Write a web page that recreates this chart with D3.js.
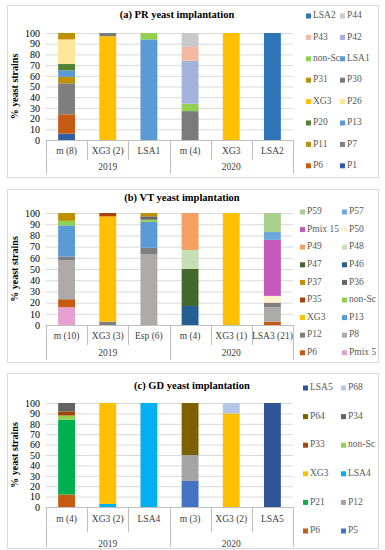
<!DOCTYPE html>
<html>
<head>
<meta charset="utf-8">
<script src="https://cdn.jsdelivr.net/npm/d3@7"></script>
<style>
body { margin: 0; background: #fff; }
svg { display: block; }
text { font-family: "Liberation Serif", "DejaVu Serif", serif; }
</style>
</head>
<body>
<div id="chart"></div>
<script>
// ---- data: (a) PR ----
var catsA = ['m (8)', 'XG3 (2)', 'LSA1', 'm (4)', 'XG3', 'LSA2'];
var yearOfCatA = ['2019', '2019', '2019', '2020', '2020', '2020'];
var seriesA = ['P1', 'P6', 'P7', 'P11', 'P13', 'P20', 'P26', 'XG3', 'P30', 'P31', 'LSA1', 'non-Sc', 'P42', 'P43', 'P44', 'LSA2'];
var valuesA = [
	[6, 0, 0, 0, 0, 0],     // P1
	[18, 0, 0, 0, 0, 0],    // P6
	[29, 0, 0, 0, 0, 0],    // P7
	[6, 0, 0, 0, 0, 0],     // P11
	[6, 0, 0, 0, 0, 0],     // P13
	[6, 0, 0, 0, 0, 0],     // P20
	[23, 0, 0, 0, 0, 0],    // P26
	[0, 97, 0, 0, 100, 0],  // XG3
	[0, 3, 0, 27, 0, 0],    // P30
	[6, 0, 0, 0, 0, 0],     // P31
	[0, 0, 94, 0, 0, 0],    // LSA1
	[0, 0, 6, 7, 0, 0],     // non-Sc
	[0, 0, 0, 40, 0, 0],    // P42
	[0, 0, 0, 13, 0, 0],    // P43
	[0, 0, 0, 13, 0, 0],    // P44
	[0, 0, 0, 0, 0, 100]    // LSA2
];
var colorsA = ['#2f5ea6', '#c55a11', '#7f7f7f', '#bf9000', '#5b9bd5', '#548235', '#ffe699', '#ffc000',
	'#7a7a7a', '#bf9000', '#5b9bd5', '#92d050', '#a3b3de', '#f4b9a3', '#c9c9c9', '#2e75b6'];

// ---- data: (b) VT ----
var catsB = ['m (10)', 'XG3 (3)', 'Esp (6)', 'm (4)', 'XG3 (1)', 'LSA3 (21)'];
var yearOfCatB = ['2019', '2019', '2019', '2020', '2020', '2020'];
var seriesB = ['Pmix 5', 'P6', 'P8', 'P12', 'P13', 'XG3', 'non-Sc', 'P35', 'P36', 'P37', 'P46', 'P47', 'P48', 'P49', 'P50', 'Pmix 15', 'P57', 'P59'];
var valuesB = [
	[16, 0, 0, 0, 0, 0],    // Pmix 5
	[7, 0, 0, 0, 0, 3],     // P6
	[35, 0, 63, 0, 0, 13],  // P8
	[3, 3, 6, 0, 0, 4],     // P12
	[28, 0, 23, 0, 0, 0],   // P13
	[0, 94, 0, 0, 100, 0],  // XG3
	[4, 0, 2, 0, 0, 0],     // non-Sc
	[0, 3, 0, 0, 0, 0],     // P35
	[0, 0, 3, 0, 0, 0],     // P36
	[7, 0, 3, 0, 0, 0],     // P37
	[0, 0, 0, 17, 0, 0],    // P46
	[0, 0, 0, 33, 0, 0],    // P47
	[0, 0, 0, 17, 0, 0],    // P48
	[0, 0, 0, 33, 0, 0],    // P49
	[0, 0, 0, 0, 0, 6],     // P50
	[0, 0, 0, 0, 0, 50],    // Pmix 15
	[0, 0, 0, 0, 0, 7],     // P57
	[0, 0, 0, 0, 0, 17]     // P59
];
var colorsB = ['#e6a0cf', '#c55a11', '#aeaaaa', '#7f7f7f', '#5b9bd5', '#ffc000', '#92d050', '#a9440f', '#666666',
	'#bf9000', '#255e91', '#43682b', '#c5e0b4', '#f4a062', '#fff2cc', '#c45bbb', '#6fa8dc', '#a9d18e'];

// ---- data: (c) GD ----
var catsC = ['m (4)', 'XG3 (2)', 'LSA4', 'm (3)', 'XG3 (2) ', 'LSA5'];
var yearOfCatC = ['2019', '2019', '2019', '2020', '2020', '2020'];
var seriesC = ['P5', 'P6', 'P12', 'P21', 'LSA4', 'XG3', 'non-Sc', 'P33', 'P34', 'P64', 'P68', 'LSA5'];
var valuesC = [
	[0, 0, 0, 25, 0, 0],    // P5
	[12, 0, 0, 0, 0, 0],    // P6
	[0, 0, 0, 25, 0, 0],    // P12
	[72, 0, 0, 0, 0, 0],    // P21
	[0, 3, 100, 0, 0, 0],   // LSA4
	[0, 97, 0, 0, 90, 0],   // XG3
	[4, 0, 0, 0, 0, 0],     // non-Sc
	[4, 0, 0, 0, 0, 0],     // P33
	[8, 0, 0, 0, 0, 0],     // P34
	[0, 0, 0, 50, 0, 0],    // P64
	[0, 0, 0, 0, 10, 0],    // P68
	[0, 0, 0, 0, 0, 100]    // LSA5
];
var colorsC = ['#4472c4', '#c55a11', '#a5a5a5', '#00b050', '#00b0f0', '#ffc000', '#92d050', '#9e480e',
	'#636363', '#7f6000', '#b4c7e7', '#2f5597'];

var yTicks = d3.range(0, 101, 10);

var W = 385, H = 550;
var svg = d3.select('#chart').append('svg').attr('width', W).attr('height', H);

var fmt = {
	clr_box: '#d9d9d9',
	clr_grid: '#d9d9d9',
	clr_axis: '#bfbfbf',
	clr_text: '#404040',
	clr_legend: '#595959'
};

function drawPanel(p) {
	var g = svg.append('g');
	g.append('rect')
		.attr('x', p.box[0] + 0.5).attr('y', p.box[1] + 0.5)
		.attr('width', p.box[2] - p.box[0]).attr('height', p.box[3] - p.box[1])
		.attr('fill', '#fff').attr('stroke', fmt.clr_box);

	g.append('text')
		.attr('x', p.titleX).attr('y', p.titleY)
		.attr('text-anchor', 'middle').attr('dominant-baseline', 'middle')
		.attr('font-weight', 'bold').attr('font-size', 10.5).attr('fill', '#000')
		.text(p.title);

	var x = d3.scaleBand().domain(p.cats)
		.range([p.left, p.right]).paddingInner(0.59).paddingOuter(0.295);
	var y = d3.scaleLinear().domain([0, 100]).range([p.bottom, p.top]);

	// grid
	g.append('g')
		.attr('transform', `translate(${p.left},0)`)
		.call(d3.axisLeft(y).tickValues(yTicks).tickSize(-(p.right - p.left)).tickFormat(''))
		.call(function(s) {
			s.select('.domain').remove();
			s.selectAll('line').attr('stroke', fmt.clr_grid);
		});

	// y axis labels
	g.append('g')
		.attr('transform', `translate(${p.left},0)`)
		.call(d3.axisLeft(y).tickValues(yTicks).tickSize(0).tickPadding(6))
		.call(function(s) {
			s.select('.domain').remove();
			s.selectAll('text').attr('font-size', 10).attr('fill', '#000')
				.style('font-family', '"Liberation Serif", serif');
		});

	g.append('text')
		.attr('transform', `translate(${p.left - 30},${(p.top + p.bottom) / 2}) rotate(-90)`)
		.attr('text-anchor', 'middle').attr('dominant-baseline', 'middle')
		.attr('font-weight', 'bold').attr('font-size', 10).attr('fill', '#000')
		.text('% yeast strains');

	// stacked bars
	var rows = p.cats.map(function(c, i) {
		var r = { cat: c };
		p.series.forEach(function(s, j) { r[s] = p.values[j][i]; });
		return r;
	});
	var stacked = d3.stack().keys(p.series)(rows);
	g.selectAll('g.layer').data(stacked).enter().append('g')
		.attr('class', 'layer')
		.attr('fill', function(d, i) { return p.colors[i]; })
		.selectAll('rect').data(function(d) { return d; }).enter().append('rect')
		.attr('x', function(d) { return x(d.data.cat); })
		.attr('width', x.bandwidth())
		.attr('y', function(d) { return y(d[1]); })
		.attr('height', function(d) { return y(d[0]) - y(d[1]); });

	// category axis (two levels)
	var step = x.step();
	var x0 = x(p.cats[0]) - step * x.paddingInner() / 2;
	g.append('line')
		.attr('x1', p.left).attr('x2', p.right)
		.attr('y1', p.bottom + 0.5).attr('y2', p.bottom + 0.5)
		.attr('stroke', fmt.clr_axis);
	p.cats.forEach(function(c, i) {
		var bx = Math.round(x0 + step * i) + 0.5;
		var isGroupEdge = i === 0 || p.yearOfCat[i] !== p.yearOfCat[i - 1];
		g.append('line')
			.attr('x1', bx).attr('x2', bx)
			.attr('y1', p.bottom).attr('y2', isGroupEdge ? p.axisEnd : p.catTickEnd)
			.attr('stroke', fmt.clr_axis);
		g.append('text')
			.attr('x', x(c) + x.bandwidth() / 2).attr('y', p.catY)
			.attr('text-anchor', 'middle').attr('dominant-baseline', 'middle')
			.attr('font-size', 9.5).attr('fill', fmt.clr_text)
			.text(c.trim());
	});
	var bxEnd = Math.round(x0 + step * p.cats.length) + 0.5;
	g.append('line')
		.attr('x1', bxEnd).attr('x2', bxEnd)
		.attr('y1', p.bottom).attr('y2', p.axisEnd)
		.attr('stroke', fmt.clr_axis);

	var years = Array.from(new Set(p.yearOfCat));
	years.forEach(function(yr) {
		var idx = p.cats.filter(function(c, i) { return p.yearOfCat[i] === yr; });
		var cx = (x(idx[0]) + x(idx[idx.length - 1]) + x.bandwidth()) / 2;
		g.append('text')
			.attr('x', cx).attr('y', p.yearY)
			.attr('text-anchor', 'middle').attr('dominant-baseline', 'middle')
			.attr('font-size', 9.5).attr('fill', fmt.clr_text)
			.text(yr);
	});

	// legend, reversed series order, two columns
	var legend = p.series.slice().reverse().map(function(s, k) {
		return { name: s, color: p.colors[p.series.length - 1 - k], k: k };
	});
	var lg = g.selectAll('g.leg').data(legend).enter().append('g')
		.attr('class', 'leg')
		.attr('transform', function(d) {
			return `translate(${p.legX[d.k % 2]},${p.legY0 + Math.floor(d.k / 2) * p.legStep})`;
		});
	lg.append('rect')
		.attr('x', 0).attr('y', -2.5).attr('width', 5).attr('height', 5)
		.attr('fill', function(d) { return d.color; });
	lg.append('text')
		.attr('x', 7).attr('y', 0)
		.attr('dominant-baseline', 'middle')
		.attr('font-size', 9.5).attr('fill', fmt.clr_legend)
		.text(function(d) { return d.name; });
}

drawPanel({
	title: '(a) PR yeast implantation', titleX: 177, titleY: 16,
	box: [7, 5, 378, 177],
	cats: catsA, yearOfCat: yearOfCatA, series: seriesA, values: valuesA, colors: colorsA,
	left: 46, right: 293, top: 33, bottom: 140,
	catY: 152, yearY: 168, catTickEnd: 160, axisEnd: 174,
	legX: [306, 340], legY0: 16, legStep: 21.4
});
drawPanel({
	title: '(b) VT yeast implantation', titleX: 182, titleY: 199,
	box: [7, 189, 378, 362],
	cats: catsB, yearOfCat: yearOfCatB, series: seriesB, values: valuesB, colors: colorsB,
	left: 46, right: 293, top: 213, bottom: 325,
	catY: 337, yearY: 354, catTickEnd: 345, axisEnd: 360,
	legX: [300, 342], legY0: 212, legStep: 17.6
});
drawPanel({
	title: '(c) GD yeast implantation', titleX: 192, titleY: 387,
	box: [7, 373, 378, 548],
	cats: catsC, yearOfCat: yearOfCatC, series: seriesC, values: valuesC, colors: colorsC,
	left: 46, right: 293, top: 403, bottom: 507,
	catY: 520, yearY: 545, catTickEnd: 532, axisEnd: 547,
	legX: [303, 341], legY0: 388, legStep: 28.6
});
</script>
</body>
</html>
